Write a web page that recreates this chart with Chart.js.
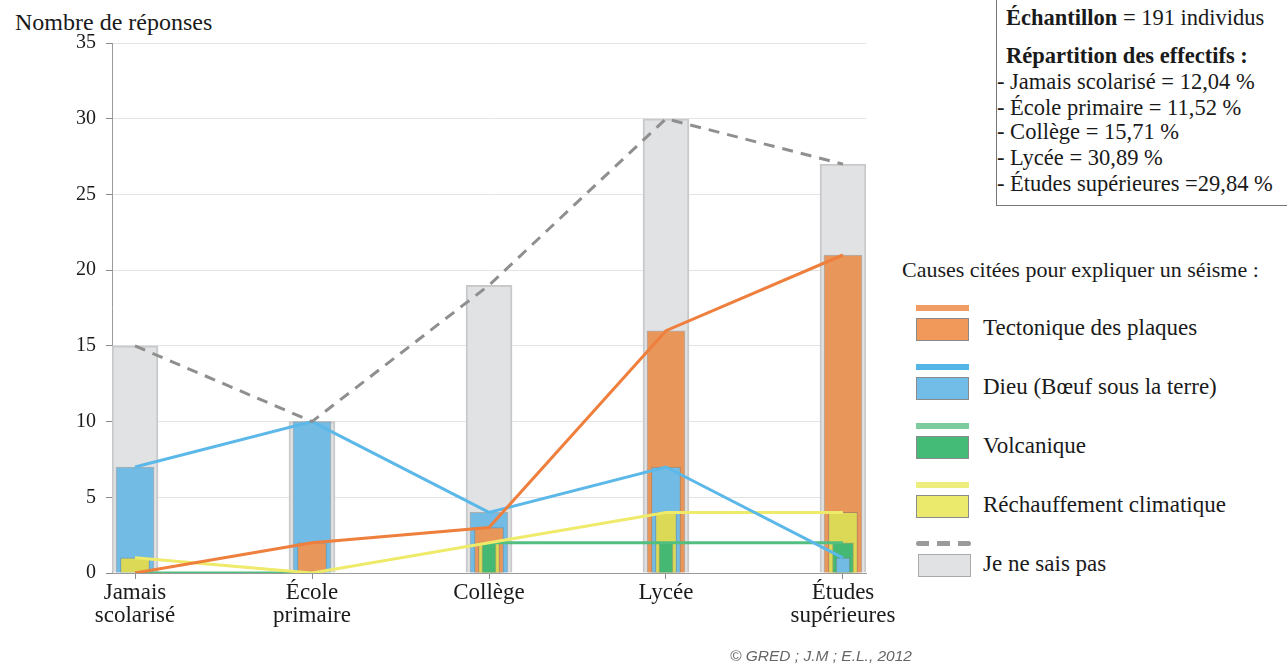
<!DOCTYPE html>
<html lang="fr">
<head>
<meta charset="utf-8">
<script src="https://cdn.jsdelivr.net/npm/chart.js@4.4.1/dist/chart.umd.min.js"></script>
<style>
  body { margin: 0; width: 1287px; height: 665px; background: #fff; position: relative; overflow: hidden;
         font-family: "Liberation Serif", "DejaVu Serif", serif; color: #1a1a1a; }
  #chartBox { position: absolute; left: 0; top: 0; width: 900px; height: 665px; }
  .yTitle { position: absolute; left: 15px; top: 8px; font-size: 24px; line-height: 28px; }
  .info { position: absolute; left: 996px; top: -2px; width: 300px; height: 208px; border: 1px solid #777; box-sizing: border-box; }
  .info div { position: absolute; white-space: nowrap; font-size: 22.5px; line-height: 26px; }
  .legendTitle { position: absolute; left: 902px; top: 257px; font-size: 22px; line-height: 26px; white-space: nowrap; }
  .item { position: absolute; left: 916px; }
  .item .ln { position: absolute; left: 0; width: 53px; height: 6px; }
  .item .bx { position: absolute; left: 0; top: 13px; width: 53px; height: 23px; box-sizing: border-box; border: 1px solid #8a8a8a; }
  .item .tx { position: absolute; left: 67px; top: 10px; font-size: 23px; line-height: 26px; white-space: nowrap; }
  .credit { position: absolute; left: 730px; top: 647px; font-family: "Liberation Sans", Arial, sans-serif;
            font-style: italic; font-size: 15.5px; color: #666; }
</style>
</head>
<body>
<div class="yTitle">Nombre de réponses</div>
<div id="chartBox"><canvas id="chart" width="900" height="665"></canvas></div>

<div class="info">
  <div style="left:9px;top:6px"><b>Échantillon</b> = 191 individus</div>
  <div style="left:9px;top:44px"><b>Répartition des effectifs :</b></div>
  <div style="left:0;top:70px">- Jamais scolarisé = 12,04 %</div>
  <div style="left:0;top:96px">- École primaire = 11,52 %</div>
  <div style="left:0;top:120px">- Collège = 15,71 %</div>
  <div style="left:0;top:146px">- Lycée = 30,89 %</div>
  <div style="left:0;top:172px">- Études supérieures =29,84 %</div>
</div>

<div class="legendTitle">Causes citées pour expliquer un séisme :</div>
<div id="legend"></div>
<div class="credit">© GRED ; J.M ; E.L., 2012</div>

<script>
const categories = ['Jamais scolarisé', 'École primaire', 'Collège', 'Lycée', 'Études supérieures'];
const categoryLines = [['Jamais', 'scolarisé'], ['École', 'primaire'], ['Collège'], ['Lycée'], ['Études', 'supérieures']];

const tectonique = [0, 2, 3, 16, 21];
const dieu = [7, 10, 4, 7, 1];
const volcanique = [0, 0, 2, 2, 2];
const rechauffement = [1, 0, 2, 4, 4];
const neSaisPas = [15, 10, 19, 30, 27];

const yTicks = [0, 5, 10, 15, 20, 25, 30, 35];

const series = [
    { label: 'Tectonique des plaques', data: tectonique, bar: '#e9965a', line: '#ee7f3c' },
    { label: 'Dieu (Bœuf sous la terre)', data: dieu, bar: '#72bbe5', line: '#5bb8e8' },
    { label: 'Réchauffement climatique', data: rechauffement, bar: '#dcd956', line: '#eeea6a' },
    { label: 'Volcanique', data: volcanique, bar: '#45b874', line: '#52bf80' }
];

// colored bars are drawn by rank inside each category: biggest behind and widest
const layerWidths = [38, 29, 21, 14];
const layers = layerWidths.map(() => ({ data: [], colors: [] }));
categories.forEach((c, i) => {
    const ranked = series.slice().sort((a, b) => b.data[i] - a.data[i]);
    ranked.forEach((s, k) => {
        layers[k].data.push({ x: i, y: s.data[i] });
        layers[k].colors.push(s.bar);
    });
});

const datasets = [];

series.forEach((s, k) => {
    datasets.push({
        type: 'line',
        data: s.data.map((v, i) => ({ x: i, y: v })),
        borderColor: s.line,
        borderWidth: 3,
        pointRadius: 0,
        tension: 0,
        order: 1 + k,
        segment: s.data === volcanique ? {
            borderColor: ctx => ctx.p0DataIndex === 1 ? 'rgba(0,0,0,0)' : undefined
        } : undefined
    });
});

datasets.push({
    type: 'line',
    data: neSaisPas.map((v, i) => ({ x: i, y: v })),
    borderColor: '#8f8f8f',
    borderWidth: 3,
    borderDash: [11, 8],
    pointRadius: 0,
    tension: 0,
    order: 0
});

layers.forEach((layer, k) => {
    datasets.push({
        type: 'bar',
        data: layer.data,
        backgroundColor: layer.colors,
        borderColor: 'rgba(110,110,110,0.45)',
        borderWidth: 1,
        barThickness: layerWidths[k],
        grouped: false,
        order: 9 - k
    });
});

datasets.push({
    type: 'bar',
    data: neSaisPas.map((v, i) => ({ x: i, y: v })),
    backgroundColor: '#e1e2e4',
    borderColor: '#c8c9cb',
    borderWidth: 2,
    barThickness: 46,
    grouped: false,
    order: 20
});

new Chart(document.getElementById('chart').getContext('2d'), {
    data: { datasets: datasets },
    options: {
        responsive: false,
        animation: false,
        layout: { padding: { top: 43, right: 34, left: 0, bottom: 0 } },
        plugins: { legend: { display: false }, tooltip: { enabled: false } },
        scales: {
            x: {
                type: 'linear',
                offset: false,
                min: -0.13,
                max: 4.13,
                afterBuildTicks: axis => { axis.ticks = categories.map((c, i) => ({ value: i })); },
                afterFit: axis => { axis.height = 92; },
                grid: { offset: false, drawOnChartArea: false, tickLength: 6, tickColor: '#8a8a8a' },
                border: { color: '#9a9a9a', width: 1 },
                ticks: {
                    autoSkip: false,
                    maxRotation: 0,
                    padding: 2,
                    color: '#1a1a1a',
                    font: { family: 'Liberation Serif', size: 23, lineHeight: 1.0 },
                    callback: (value, index) => categoryLines[index]
                }
            },
            y: {
                min: 0,
                max: 35,
                afterBuildTicks: axis => { axis.ticks = yTicks.map(v => ({ value: v })); },
                afterFit: axis => { axis.width = 112; },
                grid: { color: '#e4e4e4', lineWidth: 1, tickLength: 6, tickColor: '#8a8a8a' },
                border: { color: '#9a9a9a', width: 1 },
                ticks: {
                    padding: 10,
                    color: '#1a1a1a',
                    font: { family: 'Liberation Serif', size: 20 }
                }
            }
        }
    }
});

// custom legend: line swatch above a box swatch
const legendItems = [
    { text: 'Tectonique des plaques', line: '#f09c62', box: '#f0995a', top: 305 },
    { text: 'Dieu (Bœuf sous la terre)', line: '#55b5e6', box: '#72bde8', top: 364 },
    { text: 'Volcanique', line: '#7ccca0', box: '#45bb78', top: 423 },
    { text: 'Réchauffement climatique', line: '#eeee7e', box: '#ecea6c', top: 482 },
    { text: 'Je ne sais pas', line: null, box: '#e1e2e4', top: 541 }
];
const legend = document.getElementById('legend');
legendItems.forEach(item => {
    const el = document.createElement('div');
    el.className = 'item';
    el.style.top = item.top + 'px';
    const ln = item.line
        ? `<div class="ln" style="background:${item.line}"></div>`
        : `<div class="ln" style="height:5px;background:repeating-linear-gradient(90deg,#9a9a9a 0 13px,transparent 13px 21px);border-radius:3px;width:55px"></div>`;
    el.innerHTML = ln + `<div class="bx" style="background:${item.box}${item.line ? '' : ';border-color:#aaa;left:2px'}"></div>` +
        `<div class="tx">${item.text}</div>`;
    legend.appendChild(el);
});
</script>
</body>
</html>
